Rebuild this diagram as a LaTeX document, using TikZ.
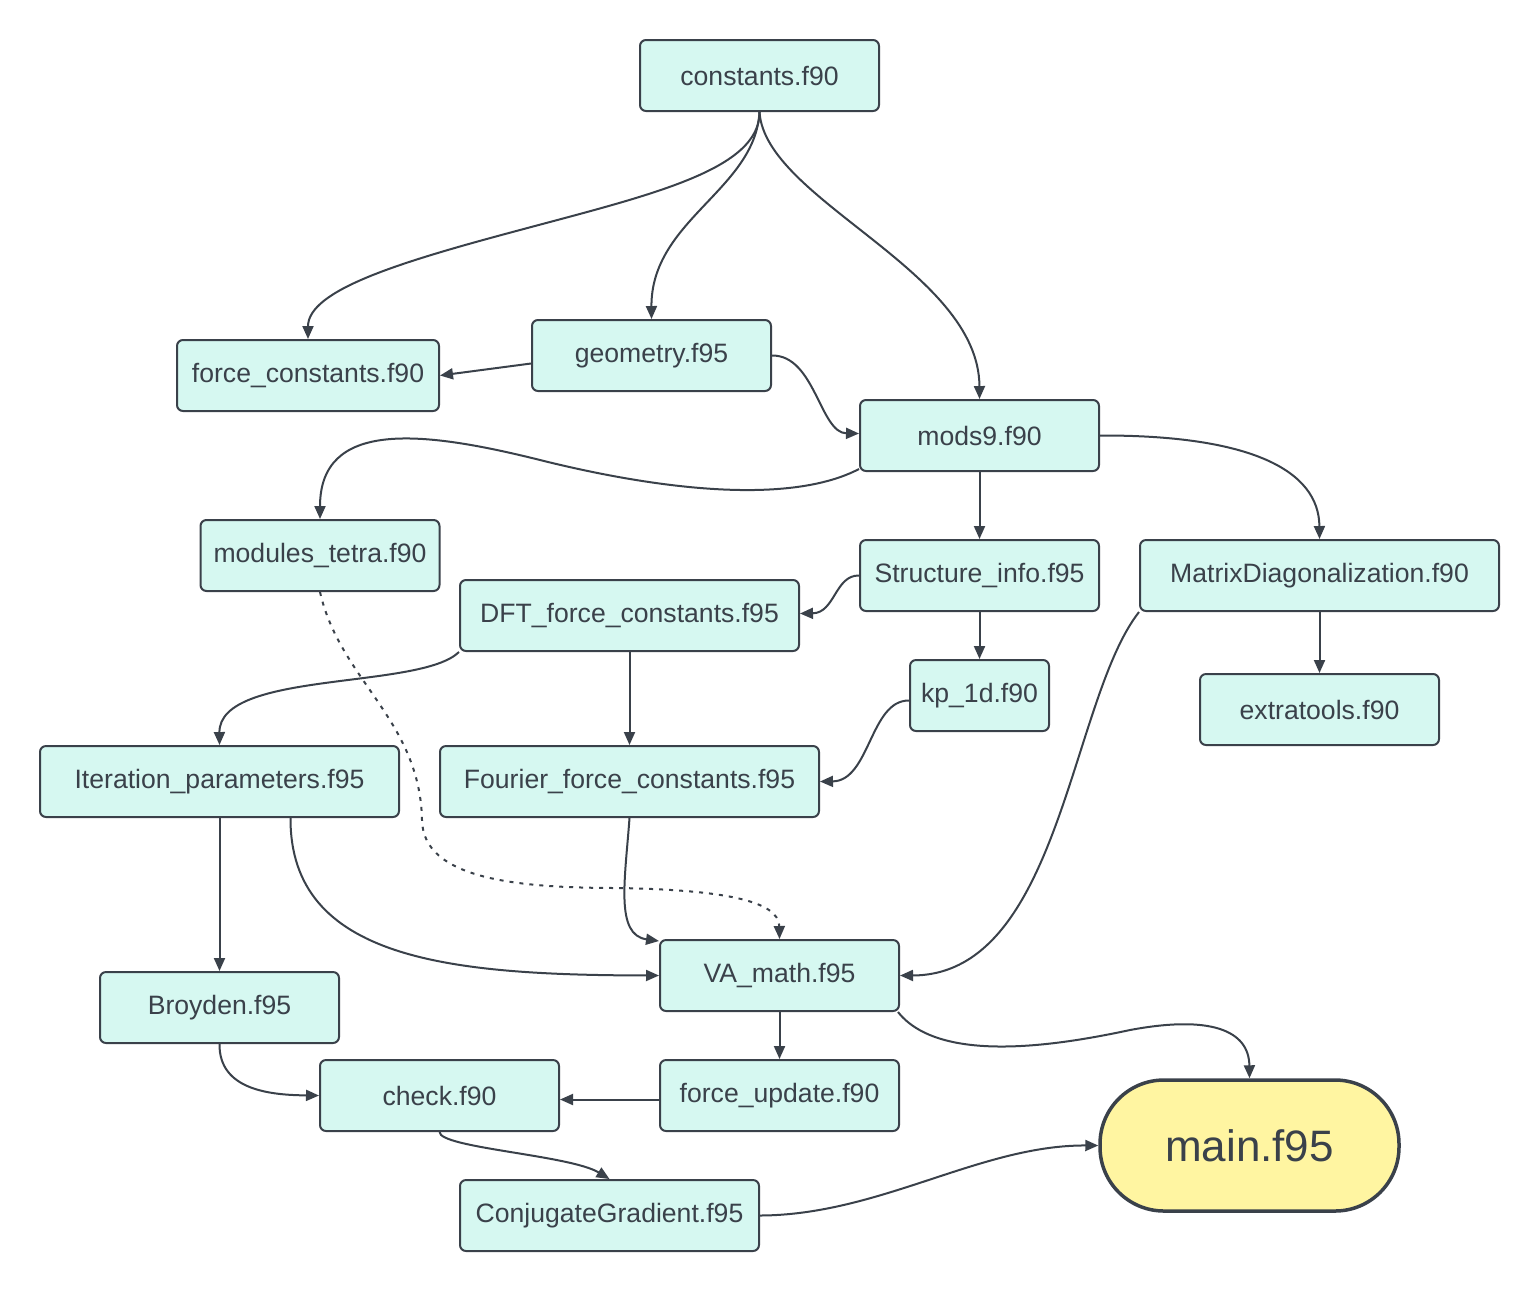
\documentclass[tikz,border=0pt]{standalone}
\usepackage{fontspec}
\setmainfont{Liberation Sans}
\usetikzlibrary{arrows.meta,calc}
\definecolor{boxfill}{HTML}{D6F8F1}
\definecolor{mainfill}{HTML}{FFF5A1}
\definecolor{ink}{HTML}{3A414A}

\begin{document}
\begin{tikzpicture}[x=0.5pt, y=-0.5pt,
    file/.style={draw=ink, fill=boxfill, line width=1pt, rounded corners=3pt,
      minimum height=35.5pt, minimum width=119.5pt, inner sep=0pt,
      text=ink, font=\fontsize{13.3}{16}\selectfont},
    dep/.style={draw=ink, line width=1pt, -{Triangle[length=6.5pt,width=5.5pt]}}]
  \useasboundingbox (0,0) rectangle (1540,1292);

  % files
  \node[file] (constants) at (759.5,75.5) {constants.f90};
  \node[file, minimum width=131pt] (forceconst) at (308,375.5) {force\_constants.f90};
  \node[file] (geometry) at (651.5,355.5) {geometry.f95};
  \node[file] (mods) at (979.5,435.5) {mods9.f90};
  \node[file] (tetra) at (320,555.5) {modules\_tetra.f90};
  \node[file] (structinfo) at (979.5,575.5) {Structure\_info.f95};
  \node[file, minimum width=179.5pt] (matdiag) at (1319.5,575.5) {MatrixDiagonalization.f90};
  \node[file, minimum width=169.5pt] (dftfc) at (629.5,615.5) {DFT\_force\_constants.f95};
  \node[file, minimum width=69.5pt] (kp) at (979.5,695.5) {kp\_1d.f90};
  \node[file] (extra) at (1319.5,709.5) {extratools.f90};
  \node[file, minimum width=179.5pt] (iterpar) at (219.5,781.5) {Iteration\_parameters.f95};
  \node[file, minimum width=189.5pt] (fourier) at (629.5,781.5) {Fourier\_force\_constants.f95};
  \node[file] (vamath) at (779.5,975.5) {VA\_math.f95};
  \node[file] (broyden) at (219.5,1007.5) {Broyden.f95};
  \node[file] (check) at (439.5,1095.5) {check.f90};
  \node[file] (fupdate) at (779.5,1095.5) {force\_update.f90};
  \node[file, minimum width=149.5pt] (cg) at (609.5,1215.5) {ConjugateGradient.f95};
  \node[draw=ink, fill=mainfill, line width=1.75pt, rounded corners=32pt,
    minimum width=149.5pt, minimum height=65.5pt, text=ink,
    font=\fontsize{22}{26}\selectfont] (main) at (1249.5,1145.5) {main.f95};

  % dependencies
  \draw[dep] (constants.south) .. controls (760,170) and (650,195) .. (520,230)
    .. controls (400,262) and (308,290) .. (forceconst.north);
  \draw[dep] (constants.south) .. controls (755,190) and (651,220) .. (geometry.north);
  \draw[dep] (constants.south) .. controls (765,200) and (979,270) .. (mods.north);
  \draw[dep] ($(geometry.west)+(0,8)$) -- (forceconst.east);
  \draw[dep] (geometry.east) .. controls (815,355) and (820,433) .. ($(mods.west)+(0,-2)$);
  \draw[dep] ($(mods.south west)+(0,-3)$) .. controls (790,505) and (660,490) .. (540,460)
    .. controls (420,430) and (320,420) .. (tetra.north);
  \draw[dep] (mods.south) -- (structinfo.north);
  \draw[dep] (mods.east) .. controls (1250,435) and (1319,470) .. (matdiag.north);
  \draw[dep] (structinfo.west) .. controls (835,575) and (835,613) .. ($(dftfc.east)+(0,-2)$);
  \draw[dep] (structinfo.south) -- (kp.north);
  \draw[dep] (matdiag.south) -- (extra.north);
  \draw[dep] (dftfc.south) -- (fourier.north);
  \draw[dep] (dftfc.south west) .. controls (420,690) and (219,670) .. (iterpar.north);
  \draw[dep] ($(kp.west)+(0,5)$) .. controls (870,700) and (870,781) .. (fourier.east);
  \draw[dep, dash pattern=on 2pt off 3pt] (tetra.south) .. controls (340,680) and (420,720) .. (422,820)
    .. controls (423,880) and (520,888) .. (620,888)
    .. controls (720,890) and (779,900) .. (vamath.north);
  \draw[dep] (iterpar.south) -- (broyden.north);
  \draw[dep] ($(iterpar.south)+(71,0)$) .. controls (290,960) and (450,975) .. (vamath.west);
  \draw[dep] (fourier.south) .. controls (625,880) and (615,935) .. ($(vamath.north west)+(0,2)$);
  \draw[dep] (matdiag.south west) .. controls (1070,700) and (1060,975) .. (vamath.east);
  \draw[dep] (vamath.south) -- (fupdate.north);
  \draw[dep] ($(vamath.south east)+(-2,0)$) .. controls (940,1065) and (1060,1045) .. (1130,1030)
    .. controls (1210,1015) and (1249,1030) .. (main.north);
  \draw[dep] (broyden.south) .. controls (219,1090) and (270,1095) .. (check.west);
  \draw[dep] ($(fupdate.west)+(0,4)$) -- ($(check.east)+(0,4)$);
  \draw[dep] (check.south) .. controls (440,1148) and (570,1155) .. (cg.north);
  \draw[dep] (cg.east) .. controls (880,1215) and (980,1145) .. (main.west);
\end{tikzpicture}
\end{document}
